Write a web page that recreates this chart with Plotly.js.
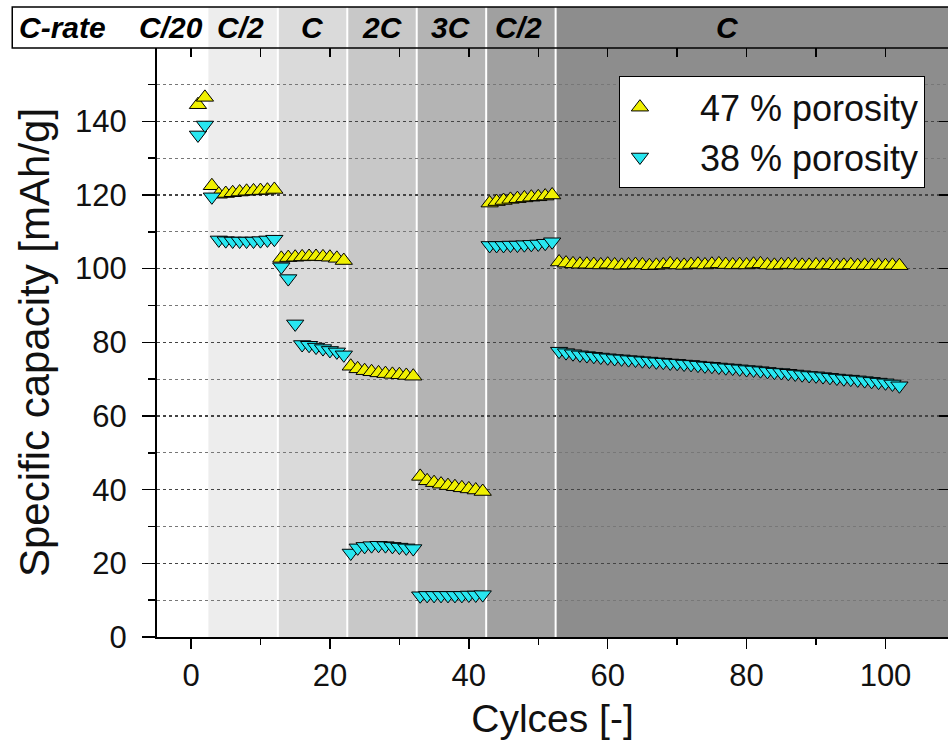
<!DOCTYPE html>
<html><head><meta charset="utf-8">
<script src="https://cdn.plot.ly/plotly-3.0.1.min.js"></script>
<style>html,body{margin:0;padding:0;background:#fff;} #chart{width:948px;height:749px;}</style>
</head><body><div id="chart"></div>
<script>
const cycles = [1,2,3,4,5,6,7,8,9,10,11,12,13,14,15,16,17,18,19,20,21,22,23,24,25,26,27,28,29,30,31,32,33,34,35,36,37,38,39,40,41,42,43,44,45,46,47,48,49,50,51,52,53,54,55,56,57,58,59,60,61,62,63,64,65,66,67,68,69,70,71,72,73,74,75,76,77,78,79,80,81,82,83,84,85,86,87,88,89,90,91,92,93,94,95,96,97,98,99,100,101,102];
const porosity47 = [
  144.5, 146.5,
  122.5, 120.2, 120.4, 120.6, 120.8, 121.0, 121.1, 121.2, 121.3, 121.5,
  102.8, 103.0, 103.1, 103.2, 103.3, 103.3, 103.2, 103.1, 102.8, 102.2,
  73.5, 72.8, 72.3, 72.0, 71.7, 71.5, 71.3, 71.2, 71.0, 70.8,
  43.6, 42.4, 41.9, 41.5, 41.1, 40.8, 40.5, 40.2, 39.9, 39.5,
  117.8, 118.2, 118.5, 118.8, 119.0, 119.2, 119.4, 119.5, 119.7, 120.0,
  101.8, 101.5, 101.3, 101.2, 101.2, 101.1, 101.0, 101.2, 101.0, 100.9,
  101.0, 101.1, 101.0, 100.8, 100.9, 101.0, 101.3, 101.0, 100.9, 101.1,
  101.2, 101.0, 101.2, 101.3, 101.1, 101.0, 101.1, 101.0, 101.2, 101.3,
  101.0, 100.9, 101.0, 101.1, 101.0, 100.9, 100.9, 101.0, 100.9, 101.0,
  100.8, 100.9, 101.0, 100.8, 100.9, 100.8, 100.9, 100.8, 100.9, 100.8
];
const porosity38 = [
  136.3, 139.0,
  119.5, 107.8, 107.6, 107.5, 107.5, 107.5, 107.5, 107.6, 107.8, 108.0,
  100.5, 97.3, 85.0, 79.4, 79.2, 78.7, 78.3, 77.8, 77.4, 76.6,
  22.8, 24.2, 24.6, 24.8, 24.9, 24.8, 24.6, 24.4, 24.2, 24.0,
  11.2, 11.3, 11.3, 11.3, 11.3, 11.3, 11.3, 11.4, 11.4, 11.5,
  106.3, 106.3, 106.3, 106.4, 106.4, 106.5, 106.6, 106.7, 106.9, 107.3,
  77.6, 77.2, 76.9, 76.6, 76.4, 76.2, 76.0, 75.8, 75.6, 75.5,
  75.3, 75.2, 75.0, 74.9, 74.7, 74.6, 74.4, 74.3, 74.1, 74.0,
  73.8, 73.6, 73.5, 73.3, 73.1, 73.0, 72.8, 72.6, 72.5, 72.3,
  72.1, 71.9, 71.8, 71.6, 71.4, 71.2, 71.0, 70.9, 70.7, 70.5,
  70.3, 70.1, 70.0, 69.8, 69.6, 69.4, 69.2, 69.0, 68.7, 68.2
];
const seriesNames = ['47 % porosity', '38 % porosity'];
const rateBoundaries = [2.5, 12.5, 22.5, 32.5, 42.5, 52.5];
const rateLabels = ['C/20', 'C/2', 'C', '2C', '3C', 'C/2', 'C'];
const rateLabelX = [-2.9, 7.1, 17.5, 27.5, 37.5, 47.2, 77.3];
const bandColors = ['#ffffff', '#ededed', '#dadada', '#c8c8c8', '#b4b4b4', '#a0a0a0', '#8d8d8d'];

const xMin = -4.9, xMax = 109, yMin = 0, yMax = 159.9;
const hdrY0 = 1.0, hdrY1 = 1.0696, hdrLeft = -0.183;
const pad = '\u00a0\u00a0\u00a0\u00a0';

const traces = [
  {x: cycles, y: porosity47, name: pad + seriesNames[0], legendgroup: 'a', type: 'scatter', mode: 'markers',
   marker: {symbol: 'triangle-up', size: 15, color: '#f0f000', line: {color: '#000', width: 1}}},
  {x: cycles, y: porosity38, name: pad + seriesNames[1], legendgroup: 'b', type: 'scatter', mode: 'markers',
   marker: {symbol: 'triangle-down', size: 15, color: '#28e6f0', line: {color: '#000', width: 1}}},
  {x: [], y: [], xaxis: 'x2', yaxis: 'y2', showlegend: false, hoverinfo: 'skip', type: 'scatter'}
];

const edges = [xMin].concat(rateBoundaries, [xMax]);
const shapes = [];
shapes.push({type: 'rect', xref: 'paper', yref: 'paper', x0: hdrLeft, x1: 1.01, y0: hdrY0, y1: hdrY1,
  fillcolor: '#ffffff', line: {width: 0}, layer: 'below'});
for (let i = 0; i < bandColors.length; i++) {
  shapes.push({type: 'rect', xref: 'x', yref: 'paper', x0: edges[i], x1: edges[i + 1], y0: 0, y1: hdrY1,
    fillcolor: bandColors[i], line: {width: 0}, layer: 'below'});
}
for (let i = 1; i < rateBoundaries.length; i++) {
  shapes.push({type: 'line', xref: 'x', yref: 'paper', x0: rateBoundaries[i], x1: rateBoundaries[i], y0: 0, y1: hdrY1,
    line: {color: '#ffffff', width: 2}, layer: 'below'});
}
shapes.push({type: 'rect', xref: 'paper', yref: 'paper', x0: hdrLeft, x1: 1.01, y0: hdrY0, y1: hdrY1,
  fillcolor: 'rgba(0,0,0,0)', line: {color: '#000', width: 1.5}, layer: 'above'});

const hdrFont = {family: 'Liberation Sans, Arial, sans-serif', size: 30, color: '#000', weight: 'bold', style: 'italic'};
const annotations = [{xref: 'paper', yref: 'paper', x: -0.12, y: (hdrY0 + hdrY1) / 2, text: 'C-rate',
  showarrow: false, font: hdrFont, xanchor: 'center', yanchor: 'middle'}];
rateLabels.forEach((t, i) => annotations.push({xref: 'x', yref: 'paper', x: rateLabelX[i], y: (hdrY0 + hdrY1) / 2,
  text: t, showarrow: false, font: hdrFont, xanchor: 'center', yanchor: 'middle'}));

const baseFont = 'Liberation Sans, Arial, Helvetica, sans-serif';
const layout = {
  width: 948, height: 749,
  margin: {l: 157, r: 0, t: 48, b: 112},
  paper_bgcolor: '#ffffff', plot_bgcolor: '#ffffff',
  font: {family: baseFont, color: '#000'},
  showlegend: true,
  legend: {x: 0.584, y: 0.952, xanchor: 'left', yanchor: 'top', bgcolor: '#ffffff', bordercolor: '#000', borderwidth: 1,
    font: {family: baseFont, size: 36, color: '#111'}, tracegroupgap: 0, itemwidth: 30},
  xaxis: {range: [xMin, xMax], tick0: 0, dtick: 20, ticks: 'outside', ticklen: 10, tickwidth: 1.5, tickcolor: '#000',
    showline: true, linecolor: '#000', linewidth: 2, showgrid: false, zeroline: false,
    minor: {dtick: 10, tick0: 0, ticks: 'outside', ticklen: 6, tickwidth: 1.5, tickcolor: '#000'},
    tickfont: {family: baseFont, size: 31, color: '#111'},
    title: {text: 'Cylces [-]', font: {family: baseFont, size: 39, color: '#111'}, standoff: 12}},
  yaxis: {range: [yMin, yMax], tick0: 0, dtick: 20, ticks: 'outside', ticklen: 13, tickwidth: 1.5, tickcolor: '#000',
    showline: true, linecolor: '#000', linewidth: 2, zeroline: false, ticklabelstandoff: 9,
    showgrid: true, gridcolor: '#444', griddash: 'dot', gridwidth: 1.5,
    minor: {dtick: 10, tick0: 0, ticks: 'outside', ticklen: 7, tickwidth: 1.5, tickcolor: '#000',
      showgrid: true, gridcolor: '#777', griddash: 'dot', gridwidth: 1},
    tickfont: {family: baseFont, size: 31, color: '#111'},
    title: {text: 'Specific capacity [mAh/g]', font: {family: baseFont, size: 42, color: '#111'}, standoff: 12}},
  xaxis2: {overlaying: 'x', side: 'top', anchor: 'y2', range: [xMin, xMax], tick0: 0, dtick: 10, ticks: 'inside', ticklen: 9,
    tickwidth: 1.5, tickcolor: '#000', showticklabels: false, showgrid: false, zeroline: false, showline: false},
  yaxis2: {overlaying: 'y', side: 'right', anchor: 'x2', range: [yMin, yMax], tick0: 0, dtick: 20, ticks: 'inside', ticklen: 9,
    tickwidth: 1.5, tickcolor: '#000', showticklabels: false, showgrid: false, zeroline: false, showline: true, linecolor: '#000', linewidth: 2},
  shapes: shapes,
  annotations: annotations
};

Plotly.newPlot('chart', traces, layout, {displayModeBar: false, staticPlot: true});
</script>
</body></html>
